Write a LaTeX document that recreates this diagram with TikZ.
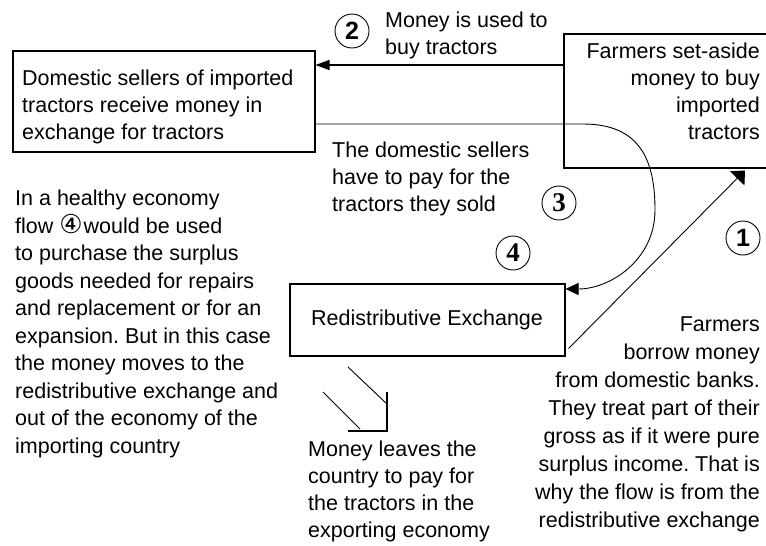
\documentclass[tikz,border=0pt]{standalone}
\usepackage{fontspec}
\setmainfont{Liberation Sans}
\newfontfamily\serifnum{Liberation Serif}
\newfontfamily\djv{DejaVu Sans}
\usetikzlibrary{arrows.meta,calc}
\frenchspacing
\begin{document}
\begin{tikzpicture}[x=1pt,y=-1pt,
  box/.style={draw,line width=1.5pt,rectangle,inner sep=0pt},
  txt/.style={inner sep=0pt,font=\fontsize{21.5}{#1}\selectfont},
  txt/.default=27,
  num/.style={draw,circle,line width=0.9pt,minimum size=34pt,inner sep=0pt},
  sansnum/.style={num,font=\fontsize{25}{25}\selectfont\bfseries},
  serifnum/.style={num,font=\fontsize{27}{27}\serifnum\bfseries},
  flowtwo/.style={line width=1.3pt,-{Triangle[length=14pt,width=10pt]}},
  flowthree/.style={line width=0.9pt,-{Triangle[length=13pt,width=12pt]}},
  flowone/.style={line width=0.9pt,-{Triangle[length=11pt,width=20pt]}},
  symthin/.style={line width=0.9pt},
  symthick/.style={line width=1.6pt},
]
\useasboundingbox (0,0) rectangle (766,546);
\fill[white] (0,0) rectangle (766,546);

\begin{scope}
\clip (0,0) rectangle (766,546);
% boxes
\node[box,minimum width=302pt,minimum height=101pt,anchor=north west] (A) at (12,50) {};
\node[box,minimum width=240pt,minimum height=134pt,anchor=north west] (B) at (563,33) {};
\node[box,minimum width=275pt,minimum height=72pt,anchor=north west] (C) at (289,283) {};
\end{scope}

% box texts (anchor = baseline of the last line)
\node[txt,anchor=base west,align=left] (Atext) at (22,139)
  {Domestic sellers of imported\\tractors receive money in\\exchange for tractors};
\node[txt,anchor=base east,align=right] (Btext) at (760,139)
  {Farmers set-aside\\money to buy\\imported\\tractors};
\node[txt,anchor=base] (Ctext) at (427,325) {Redistributive Exchange};

% annotations
\node[txt,anchor=base west,align=left] (t2) at (385,54) {Money is used to\\buy tractors};
\node[txt,anchor=base west,align=left] (t3) at (332,211)
  {The domestic sellers\\have to pay for the\\tractors they sold};
\node[txt=27.5,anchor=base west,align=left] (tleft) at (15,453)
  {In a healthy economy\\flow {\djv\fontsize{26}{27}\selectfont ④}\kern1pt would be used\\to purchase the surplus\\goods needed for repairs\\and replacement or for an\\expansion. But in this case\\the money moves to the\\redistributive exchange and\\out of the economy of the\\importing country};
\node[txt=28,anchor=base east,align=right] (tright) at (760,527)
  {Farmers\\borrow money\\from domestic banks.\\They treat part of their\\gross as if it were pure\\surplus income. That is\\why the flow is from the\\redistributive exchange};
\node[txt,anchor=base west,align=left] (tbottom) at (308,537)
  {Money leaves the\\country to pay for\\the tractors in the\\exporting economy};

% numbered circles
\node[sansnum] (n2) at (352,31) {2};
\node[sansnum] (n1) at (743,238) {1};
\node[serifnum] (n3) at (559,203) {3};
\node[serifnum] (n4) at (513,253) {4};

% flows
\draw[flowtwo] ([yshift=-32pt]B.north west) -- ([yshift=-32pt]B.north west -| A.east);
\draw[flowthree] ([yshift=-74pt]A.north east) -- (583,124)
  .. controls (640,124) and (655,160) .. (655,210)
  .. controls (655,260) and (610,289) .. ([yshift=-6pt]C.north east);
\draw[flowone] ([shift={(3pt,8pt)}]C.south east) -- ([shift={(182pt,-2pt)}]B.south west);

% money-leaves symbol
\coordinate (s1a) at (348,367);
\coordinate (s1b) at (387,404);
\coordinate (s2a) at (323,392);
\coordinate (s2b) at (360,429);
\coordinate (c1) at (387,392);
\coordinate (c2) at (387,431);
\coordinate (c3) at (348,431);
\draw[symthin] (s1a) -- (s1b);
\draw[symthin] (s2a) -- (s2b);
\draw[symthick] (c1) -- (c2) -- (c3);
\end{tikzpicture}
\end{document}
